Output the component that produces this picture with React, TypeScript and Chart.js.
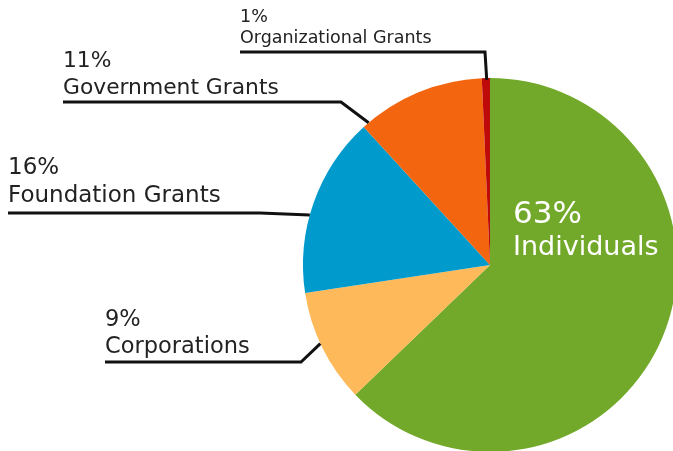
import React, { useEffect, useRef } from "react";
import { Chart, registerables } from "chart.js";

Chart.register(...registerables);

const categories = ["Individuals", "Corporations", "Foundation Grants", "Government Grants", "Organizational Grants"];
const values = [62.8, 9.8, 15.6, 11.1, 0.7];
const percentLabels = ["63%", "9%", "16%", "11%", "1%"];
const colors = ["#73A92A", "#FDB95A", "#009ACC", "#F4650F", "#BF0A0A"];

// layout of the external leader-line labels (index into categories)
const outsideLabels = [
  { idx: 1, frac: 0.54, rFrac: 1.0, elbowX: 301, elbowY: 362, startX: 105, font: 22.5, nameGap: 9, pctGap: 27 },
  { idx: 2, frac: 0.43, rFrac: 1.0, elbowX: 260, elbowY: 213, startX: 8, font: 23, nameGap: 11, pctGap: 28 },
  { idx: 3, frac: 0.05, rFrac: 1.0, elbowX: 341, elbowY: 102, startX: 63, font: 21.8, nameGap: 8, pctGap: 27 },
  { idx: 4, frac: 0.6, rFrac: 0.99, elbowX: 485, elbowY: 52, startX: 240, font: 17.5, nameGap: 9, pctGap: 21 },
];

const FONT = '"DejaVu Sans", sans-serif';
const WEIGHT = 400;

export default function App() {
  const ref = useRef<HTMLCanvasElement | null>(null);
  useEffect(() => {
    const canvas = ref.current!;
    const labelPlugin = {
      id: "labels",
      afterDatasetsDraw(chart: any) {
        const ctx = chart.ctx as CanvasRenderingContext2D;
        const meta = chart.getDatasetMeta(0);
        ctx.save();
        outsideLabels.forEach((l) => {
          const arc = meta.data[l.idx] as any;
          const p = arc.getProps(["x", "y", "startAngle", "endAngle", "outerRadius"], true);
          const a = p.startAngle + (p.endAngle - p.startAngle) * l.frac;
          const r = p.outerRadius * l.rFrac;
          const ax = p.x + Math.cos(a) * r;
          const ay = p.y + Math.sin(a) * r;
          ctx.strokeStyle = "#111";
          ctx.lineWidth = 3;
          ctx.lineJoin = "miter";
          ctx.beginPath();
          ctx.moveTo(l.startX, l.elbowY);
          ctx.lineTo(l.elbowX, l.elbowY);
          ctx.lineTo(ax, ay);
          ctx.stroke();
          ctx.fillStyle = "#222";
          ctx.textAlign = "left";
          ctx.textBaseline = "alphabetic";
          ctx.font = `${WEIGHT} ${l.font}px ${FONT}`;
          ctx.fillText(categories[l.idx], l.startX, l.elbowY - l.nameGap);
          ctx.fillText(percentLabels[l.idx], l.startX, l.elbowY - l.nameGap - l.pctGap);
        });
        // inside label for the largest slice
        const big = meta.data[0] as any;
        const bp = big.getProps(["x", "y"], true);
        ctx.fillStyle = "#ffffff";
        ctx.font = `${WEIGHT} 31px ${FONT}`;
        ctx.fillText(percentLabels[0], bp.x + 23, bp.y - 42);
        ctx.font = `${WEIGHT} 27px ${FONT}`;
        ctx.fillText(categories[0], bp.x + 23, bp.y - 10);
        ctx.restore();
      },
    };
    const chart = new Chart(canvas, {
      type: "pie",
      data: {
        labels: categories,
        datasets: [
          {
            data: values,
            backgroundColor: colors,
            borderWidth: 0,
          },
        ],
      },
      options: {
        responsive: false,
        animation: false,
        radius: 187,
        layout: { padding: { left: 303, right: 83, top: 78, bottom: 108 } },
        plugins: { legend: { display: false }, tooltip: { enabled: false } },
      } as any,
      plugins: [labelPlugin],
    });
    return () => chart.destroy();
  }, []);
  return (
    <div style={{ position: "fixed", left: 0, top: 0, width: 673, height: 451, overflow: "hidden", background: "#fff" }}>
      <canvas ref={ref} width={760} height={560} style={{ width: 760, height: 560, display: "block" }} />
    </div>
  );
}
